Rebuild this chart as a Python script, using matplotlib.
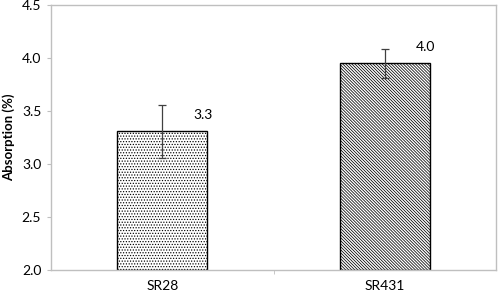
import matplotlib
matplotlib.use("Agg")
import matplotlib.pyplot as plt

categories = ["SR28", "SR431"]
values = [3.31, 3.95]
errors = [0.25, 0.135]
labels = ["3.3", "4.0"]
hatches = ["......", "\\" * 11]

plt.rcParams['font.family'] = ['Lato', 'DejaVu Sans']
plt.rcParams['hatch.linewidth'] = 0.55

fig = plt.figure(figsize=(4.98, 2.97), dpi=100)
ax = fig.add_axes([0.1024, 0.0909, 0.8936, 0.892])

x = range(len(categories))
bars = ax.bar(x, [v - 2.0 for v in values], bottom=2.0, width=0.405,
              color="white", edgecolor="black", linewidth=1.0)
for b, h in zip(bars, hatches):
    b.set_hatch(h)
ax.errorbar(x, values, yerr=errors, fmt="none", ecolor="#404040",
            elinewidth=0.9, capsize=3, capthick=0.9)
for i, (v, e, t) in enumerate(zip(values, errors, labels)):
    ax.text(i + 0.185, v + 0.1, t, fontsize=10, ha="center", va="bottom")

ax.set_xlim(-0.5, 1.5)
ax.set_ylim(2.0, 4.5)
ax.set_yticks([2.0, 2.5, 3.0, 3.5, 4.0, 4.5])
ax.set_yticklabels(["2.0", "2.5", "3.0", "3.5", "4.0", "4.5"], fontsize=10)
ax.set_xticks(list(x))
ax.set_xticklabels(categories, fontsize=10)
ax.set_xticks([0.5], minor=True)
ax.tick_params(axis="x", which="major", length=0, pad=7)
ax.tick_params(axis="x", which="minor", length=3, color="#bfbfbf")
ax.tick_params(axis="y", length=3, color="#bfbfbf", pad=4)
for s in ax.spines.values():
    s.set_color("#bfbfbf")
    s.set_linewidth(1.0)
ax.set_ylabel("Absorption (%)", fontsize=9.5, fontweight="bold", labelpad=5)

fig.savefig("out.png", dpi=100)
